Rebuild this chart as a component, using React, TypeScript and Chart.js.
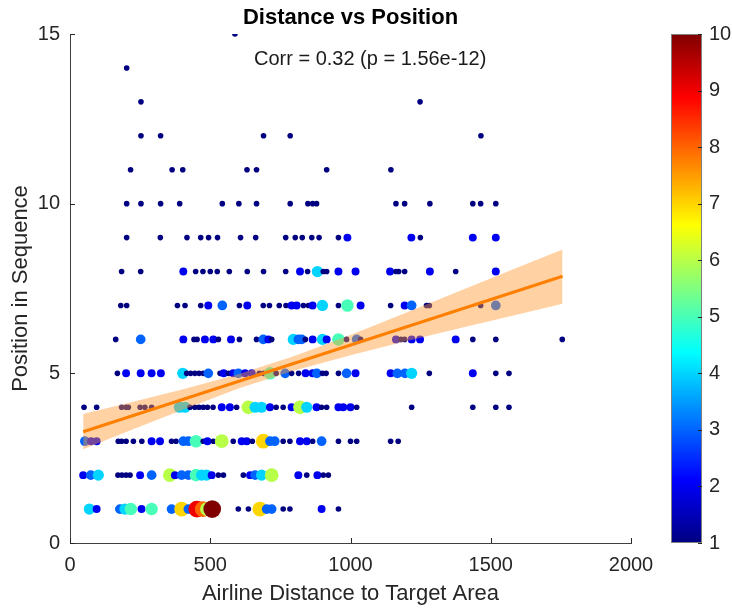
import React, { useEffect, useRef } from "react";
import { Chart, registerables } from "chart.js";

Chart.register(...registerables);

// [airline distance, number of observations] for each position in sequence
const pos1: [number, number][] = [[69,4],[95,2],[172,1],[178,3],[196,4],[217,5],[255,2],[291,5],[362,3],[398,7],[422,3],[452,9],[473,8],[488,6],[507,10],[600,1],[636,1],[677,7],[701,3],[719,3],[760,1],[784,1],[897,2],[957,1]];
const pos2: [number, number][] = [[47,2],[74,3],[101,4],[171,1],[185,1],[200,1],[214,1],[250,2],[291,3],[356,6],[374,2],[398,3],[422,3],[449,5],[469,4],[487,4],[505,2],[529,1],[547,1],[618,1],[642,2],[660,3],[683,4],[719,6],[814,2],[844,1],[882,2],[903,1],[921,1]];
const pos3: [number, number][] = [[53,3],[75,2],[95,2],[172,1],[184,1],[200,1],[226,1],[256,1],[291,2],[321,2],[362,1],[378,1],[404,3],[422,3],[449,5],[475,1],[490,2],[511,1],[541,6],[582,1],[612,2],[630,2],[650,1],[689,7],[713,3],[730,3],[760,1],[784,1],[820,2],[844,2],[865,1],[897,3],[957,1],[1000,1],[1022,1],[1143,1],[1170,1]];
const pos4: [number, number][] = [[50,1],[95,1],[184,1],[200,1],[208,1],[250,1],[267,1],[291,1],[390,4],[410,4],[428,1],[445,1],[460,1],[475,1],[490,1],[510,1],[541,2],[570,2],[594,1],[636,6],[660,4],[683,4],[713,2],[735,1],[760,1],[790,2],[820,6],[844,4],[879,2],[897,1],[915,1],[957,2],[974,2],[1000,2],[1022,1],[1218,1],[1436,1],[1518,1],[1565,1]];
const pos5: [number, number][] = [[169,1],[200,2],[252,2],[291,2],[324,2],[402,4],[416,1],[430,1],[445,1],[460,1],[475,1],[493,3],[535,1],[548,2],[565,1],[582,2],[600,3],[624,2],[648,2],[675,1],[690,1],[713,5],[735,1],[767,3],[790,1],[815,1],[840,2],[865,2],[880,3],[900,1],[913,1],[957,1],[986,3],[1018,2],[1143,2],[1167,3],[1194,3],[1218,4],[1281,1],[1436,2],[1518,1],[1565,1]];
const pos6: [number, number][] = [[163,1],[252,3],[404,2],[442,1],[453,1],[481,2],[511,2],[529,1],[574,2],[604,1],[665,1],[689,3],[707,2],[719,1],[796,4],[814,3],[826,3],[839,1],[865,2],[900,4],[915,2],[957,5],[986,1],[1022,3],[1036,1],[1162,2],[1180,1],[1193,1],[1218,2],[1248,2],[1375,2],[1436,1],[1518,1],[1755,1]];
const pos7: [number, number][] = [[181,1],[202,1],[383,1],[410,1],[466,1],[493,2],[543,3],[604,1],[632,2],[689,1],[711,1],[746,1],[770,1],[790,2],[808,2],[832,1],[850,1],[865,2],[900,4],[957,1],[989,5],[1036,2],[1143,1],[1193,2],[1218,3],[1271,1],[1281,1],[1464,1],[1518,3]];
const pos8: [number, number][] = [[184,1],[252,1],[404,2],[448,1],[474,1],[500,1],[525,1],[568,1],[632,1],[690,1],[769,1],[820,2],[847,1],[882,4],[903,1],[915,1],[957,2],[1018,2],[1141,2],[1162,1],[1172,1],[1193,1],[1283,2],[1375,1],[1518,2]];
const pos9: [number, number][] = [[202,1],[322,1],[417,1],[466,1],[494,1],[526,1],[608,1],[662,1],[769,1],[803,1],[828,1],[862,1],[888,1],[957,1],[989,2],[1217,2],[1249,1],[1436,2],[1518,2]];
const pos10: [number, number][] = [[202,1],[253,1],[323,1],[391,1],[543,1],[602,1],[665,1],[785,1],[848,1],[865,1],[879,1],[1162,1],[1193,1],[1283,1],[1436,1],[1464,1],[1518,1]];
const pos11: [number, number][] = [[216,1],[364,1],[402,1],[631,1],[665,1],[915,1],[1144,1]];
const pos12: [number, number][] = [[253,1],[323,1],[690,1],[785,1],[1465,1]];
const pos13: [number, number][] = [[253,1],[1248,1]];
const pos14: [number, number][] = [[202,1]];
const pos15: [number, number][] = [[588,1]];

const positionRows = [pos1, pos2, pos3, pos4, pos5, pos6, pos7, pos8, pos9, pos10, pos11, pos12, pos13, pos14, pos15];

// regression fit and confidence band
const fitDist = [47, 1756];
const fitPos = [3.28, 7.86];
const bandDist = [47, 200, 400, 600, 800, 1000, 1200, 1400, 1600, 1756];
const bandLow = [2.76, 3.27, 3.92, 4.55, 5.08, 5.53, 5.95, 6.35, 6.74, 7.05];
const bandHigh = [3.8, 4.11, 4.52, 4.97, 5.51, 6.13, 6.79, 7.46, 8.13, 8.65];

const xTickValues = [0, 500, 1000, 1500, 2000];
const yTickValues = [0, 5, 10, 15];
const colorTickValues = [1, 2, 3, 4, 5, 6, 7, 8, 9, 10];

const titleText = "Distance vs Position";
const corrText = "Corr = 0.32 (p = 1.56e-12)";
const xTitle = "Airline Distance to Target Area";
const yTitle = "Position in Sequence";

const FONT = '"Liberation Sans", Arial, Helvetica, sans-serif';
const INK = "#262626";

function clamp01(v: number) {
  return Math.max(0, Math.min(1, v));
}
function jet(t: number): string {
  const r = clamp01(1.5 - Math.abs(4 * t - 3));
  const g = clamp01(1.5 - Math.abs(4 * t - 2));
  const b = clamp01(1.5 - Math.abs(4 * t - 1));
  return `rgb(${Math.round(r * 255)},${Math.round(g * 255)},${Math.round(b * 255)})`;
}
const cMin = colorTickValues[0];
const cMax = colorTickValues[colorTickValues.length - 1];
function countColor(c: number) {
  return jet((c - cMin) / (cMax - cMin));
}
function countRadius(c: number) {
  return 2.8 * Math.sqrt(c);
}

export default function App() {
  const ref = useRef<HTMLCanvasElement>(null);

  useEffect(() => {
    if (!ref.current) return;
    document.body.style.margin = "0";
    Chart.defaults.font.family = FONT;

    const points: { x: number; y: number; c: number }[] = [];
    positionRows.forEach((row, i) => {
      row.forEach(([d, c]) => points.push({ x: d, y: i + 1, c }));
    });

    const decor = {
      id: "matlabDecor",
      afterDraw(chart: any) {
        const { ctx, chartArea, scales } = chart;
        const xs = scales.x;
        const ys = scales.y;
        const cs = scales.cbar;
        ctx.save();
        // inward ticks
        ctx.strokeStyle = INK;
        ctx.lineWidth = 1;
        ctx.beginPath();
        xTickValues.forEach((v) => {
          const px = Math.round(xs.getPixelForValue(v)) + 0.5;
          ctx.moveTo(px, chartArea.bottom);
          ctx.lineTo(px, chartArea.bottom - 5);
        });
        yTickValues.forEach((v) => {
          const py = Math.round(ys.getPixelForValue(v)) + 0.5;
          ctx.moveTo(chartArea.left, py);
          ctx.lineTo(chartArea.left + 5, py);
        });
        ctx.stroke();

        // colorbar
        const left = chartArea.right + 40;
        const w = 31;
        const top = cs.getPixelForValue(cMax);
        const bottom = cs.getPixelForValue(cMin);
        const grad = ctx.createLinearGradient(0, bottom, 0, top);
        for (let i = 0; i <= 64; i++) grad.addColorStop(i / 64, jet(i / 64));
        ctx.fillStyle = grad;
        ctx.fillRect(left, top, w, bottom - top);
        ctx.strokeStyle = "#808080";
        ctx.strokeRect(left + 0.5, top + 0.5, w - 1, bottom - top - 1);
        ctx.strokeStyle = INK;
        ctx.beginPath();
        colorTickValues.forEach((v) => {
          const py = Math.round(cs.getPixelForValue(v)) + 0.5;
          ctx.moveTo(left + w, py);
          ctx.lineTo(left + w - 4, py);
        });
        ctx.stroke();
        ctx.fillStyle = INK;
        ctx.font = `20px ${FONT}`;
        ctx.textAlign = "left";
        ctx.textBaseline = "middle";
        colorTickValues.forEach((v) => {
          ctx.fillText(String(v), left + w + 7, cs.getPixelForValue(v));
        });

        // correlation annotation
        ctx.font = `20px ${FONT}`;
        ctx.textAlign = "center";
        ctx.fillStyle = "#1a1a1a";
        ctx.fillText(
          corrText,
          chartArea.left + 0.535 * (chartArea.right - chartArea.left),
          chartArea.top + 0.051 * (chartArea.bottom - chartArea.top)
        );

        // title centred over the plot area
        ctx.font = `bold 22px ${FONT}`;
        ctx.fillStyle = "#000";
        ctx.fillText(titleText, (chartArea.left + chartArea.right) / 2, 18);
        ctx.restore();
      },
    };

    const chart = new Chart(ref.current, {
      type: "scatter",
      data: {
        datasets: [
          {
            label: "fit",
            data: fitDist.map((x, i) => ({ x, y: fitPos[i] })),
            showLine: true,
            borderColor: "rgb(255,128,0)",
            borderWidth: 3,
            pointRadius: 0,
            fill: false,
            order: 0,
          },
          {
            label: "ciHigh",
            data: bandDist.map((x, i) => ({ x, y: bandHigh[i] })),
            showLine: true,
            borderColor: "rgba(0,0,0,0)",
            borderWidth: 0,
            pointRadius: 0,
            fill: "+1",
            backgroundColor: "rgba(255,153,51,0.45)",
            order: 1,
          },
          {
            label: "ciLow",
            data: bandDist.map((x, i) => ({ x, y: bandLow[i] })),
            showLine: true,
            borderColor: "rgba(0,0,0,0)",
            borderWidth: 0,
            pointRadius: 0,
            fill: false,
            order: 1,
          },
          {
            label: "points",
            data: points,
            pointRadius: (ctx: any) => countRadius(ctx.raw ? ctx.raw.c : 1),
            pointBackgroundColor: (ctx: any) => countColor(ctx.raw ? ctx.raw.c : 1),
            pointBorderColor: (ctx: any) => countColor(ctx.raw ? ctx.raw.c : 1),
            pointBorderWidth: 0,
            order: 2,
          },
        ] as any,
      },
      options: {
        animation: false,
        responsive: true,
        maintainAspectRatio: false,
        events: [],
        layout: { padding: { top: 34 } },
        plugins: {
          legend: { display: false },
          tooltip: { enabled: false },
          title: { display: false },
        },
        scales: {
          x: {
            type: "linear",
            min: 0,
            max: 2000,
            afterBuildTicks: (s: any) => {
              s.ticks = xTickValues.map((v) => ({ value: v }));
            },
            ticks: { font: { size: 20 }, color: INK, padding: 10, callback: (v: any) => String(v) },
            grid: { display: false, drawTicks: false },
            border: { display: true, color: "#404040", width: 1 },
            title: {
              display: true,
              text: xTitle,
              color: INK,
              font: { size: 22, lineHeight: 1 },
              padding: { top: 0, bottom: 3 },
            },
            afterFit: (s: any) => {
              s.height = 65;
            },
          },
          y: {
            type: "linear",
            min: 0,
            max: 15,
            afterBuildTicks: (s: any) => {
              s.ticks = yTickValues.map((v) => ({ value: v }));
            },
            ticks: { font: { size: 20 }, color: INK, padding: 10, callback: (v: any) => String(v) },
            grid: { display: false, drawTicks: false },
            border: { display: true, color: "#404040", width: 1 },
            title: {
              display: true,
              text: yTitle,
              color: INK,
              font: { size: 22, lineHeight: 1.1 },
              padding: { top: 9, bottom: 0 },
            },
            afterFit: (s: any) => {
              s.width = 70;
            },
          },
          cbar: {
            type: "linear",
            position: "right",
            min: cMin,
            max: cMax,
            ticks: { display: false },
            grid: { display: false, drawTicks: false },
            border: { display: false },
            afterFit: (s: any) => {
              s.width = 101;
            },
          },
        } as any,
      },
      plugins: [decor],
    });

    return () => chart.destroy();
  }, []);

  return (
    <div style={{ width: 732, height: 608, position: "relative" }}>
      <canvas ref={ref} />
    </div>
  );
}
